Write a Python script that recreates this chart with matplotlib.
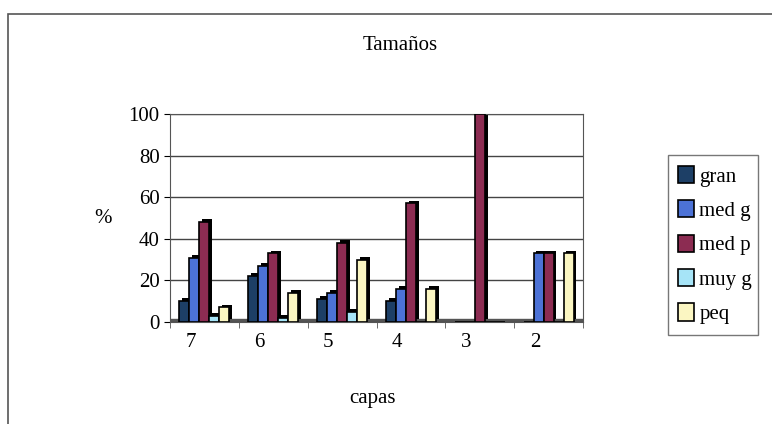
import matplotlib.pyplot as plt
import matplotlib.transforms as mtransforms
from matplotlib.patches import Rectangle
import numpy as np

# data
capas = ["7", "6", "5", "4", "3", "2"]
gran = [10, 22, 11, 10, 0, 0]
med_g = [31, 27, 14, 16, 0, 33]
med_p = [48, 33, 38, 57, 100, 33]
muy_g = [3, 2, 5, 0, 0, 0]
peq = [7, 14, 30, 16, 0, 33]

series = [("gran", gran, "#1d3f66"),
          ("med g", med_g, "#4c72d6"),
          ("med p", med_p, "#8c2c52"),
          ("muy g", muy_g, "#a6e4f7"),
          ("peq", peq, "#fbf6c2")]

plt.rcParams["font.family"] = ["Liberation Serif", "DejaVu Serif"]

fig = plt.figure(figsize=(7.72, 4.24), dpi=100)
W, H = 772.0, 424.0

# outer chart frame
fig.patches.append(Rectangle((8 / W, -0.01), 1.0, 1 - 14 / H + 0.01, transform=fig.transFigure,
                             fill=False, edgecolor="#555555", linewidth=1.2))

ax = fig.add_axes([170 / W, (H - 322) / H, 413 / W, 208 / H])
x = np.arange(len(capas))
bw = 0.145
shadow = mtransforms.offset_copy(ax.transData, fig=fig, x=2, y=2, units="points")
for i, (name, vals, col) in enumerate(series):
    pos = x + (i - 2) * bw
    # dark side/top to fake 3D depth
    ax.bar(pos, vals, bw, color="black", transform=shadow, zorder=2)
    ax.bar(pos, vals, bw, color=col, edgecolor="black", linewidth=1.2, label=name, zorder=3)

ax.set_xlim(-0.5, len(capas) - 0.5)
ax.set_ylim(0, 100)
ax.set_yticks(range(0, 101, 20))
# Excel 3D labels sit a bit left of the bar groups
ax.set_xticks(x - 0.2)
ax.set_xticklabels(capas, fontsize=15)
ax.set_xticks(np.arange(len(capas) + 1) - 0.5, minor=True)
ax.tick_params(axis="y", labelsize=15, length=4)
ax.tick_params(axis="x", which="major", length=0, pad=8)
ax.tick_params(axis="x", which="minor", length=4, color="#555555")
ax.grid(axis="y", color="#444444", linewidth=1.0, zorder=0)
for s in ax.spines.values():
    s.set_color("#555555")

# floor strip
ax.axhspan(0, 1.5, color="#555555", zorder=1)

fig.text(400 / W, 1 - 45 / H, "Tamaños", ha="center", va="center", fontsize=15)
fig.text(103 / W, 1 - 218 / H, "%", ha="center", va="center", fontsize=15)
fig.text(372 / W, 1 - 398 / H, "capas", ha="center", va="center", fontsize=15)

leg = ax.legend(loc="center left", bbox_to_anchor=(668 / W, 1 - 338 / H, 90 / W, 186 / H),
                bbox_transform=fig.transFigure, mode="expand", fontsize=15, frameon=True,
                fancybox=False, edgecolor="#555555", handlelength=0.75, handleheight=0.9,
                handletextpad=0.25, labelspacing=0.65, borderaxespad=0, borderpad=0.5)
fig.savefig("out.png", dpi=100, facecolor="white")
